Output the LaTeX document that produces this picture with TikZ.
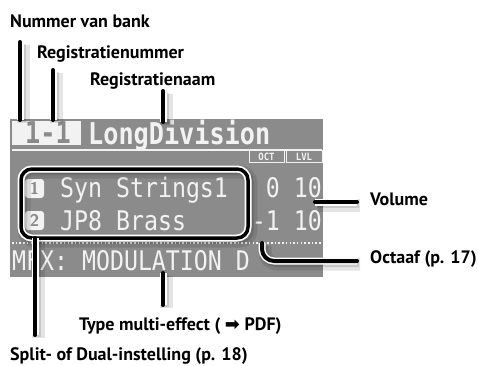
\documentclass[tikz,border=0pt]{standalone}
\usepackage{fontspec}
\setmainfont{PT Sans}
\newfontfamily\lcdfont{DejaVu Sans Mono}
\newfontfamily\symfont{DejaVu Sans}
\definecolor{lcdgray}{HTML}{8B8B8B}
\definecolor{lcdtext}{HTML}{F2F2F2}
\definecolor{lcdink}{HTML}{8A8A8A}
\tikzset{
  callout/.style={font=\bfseries\fontsize{18}{20}\selectfont, inner sep=0pt},
  lcdbig/.style={text=lcdtext, inner sep=0pt, font=\lcdfont\bfseries\fontsize{30}{30}\selectfont},
  lcdline/.style={text=lcdtext, inner sep=0pt, font=\lcdfont\fontsize{27}{27}\selectfont},
  shade/.style={preaction={draw=black, opacity=0.10, line width=13pt, transform canvas={shift={(3pt,-3pt)}}},
                preaction={draw=black, opacity=0.12, line width=8pt, transform canvas={shift={(2pt,-2pt)}}}},
  lead/.style={shade, line cap=round, line join=round,
               preaction={draw=white, line width=7pt},
               draw=black, line width=4pt},
  iconbox/.style={fill=lcdtext, rounded corners=3pt, minimum width=19pt, minimum height=19pt,
                  inner sep=0pt, text=lcdink, font=\bfseries\sffamily\fontsize{17}{17}\selectfont},
  tagbox/.style={text=lcdtext, inner sep=0pt, font=\lcdfont\bfseries\fontsize{10}{10}\selectfont}
}
\begin{document}
\begin{tikzpicture}[x=1pt, y=-1pt]
\useasboundingbox (0,0) rectangle (478,365);

% display panel
\fill[lcdgray] (10,119) rectangle (323,277);
\fill[lcdtext] (12,121) rectangle (81,145);
\node[lcdbig, text=lcdink, anchor=base west] (bank) at (25,143) {\scalebox{0.84}[1]{1-1}};
\node[lcdbig, anchor=base west] (regname) at (88,144) {\scalebox{0.84}[1]{LongDivision}};
\draw[lcdtext, line width=1.5pt] (12,150) -- (322,150);

% column headers
\draw[lcdtext, line width=1pt] (249,150) -- (249,162) -- (284,162) -- (284,150);
\draw[lcdtext, line width=1pt] (286,150) -- (286,162) -- (322,162) -- (322,150);
\node[tagbox] (octtag) at (266.5,156.5) {\scalebox{0.9}[1]{OCT}};
\node[tagbox] (lvltag) at (304,156.5) {\scalebox{0.9}[1]{LVL}};

% part rows
\node[iconbox] (one) at (34.5,188.5) {1};
\node[iconbox] (two) at (34.5,220.5) {2};
\node[lcdline, anchor=base west] (part1) at (60,197) {\scalebox{0.86}[1]{Syn Strings1}};
\node[lcdline, anchor=base west] (part2) at (60,230) {\scalebox{0.86}[1]{JP8 Brass}};
\node[lcdline, anchor=base east] (val1) at (322,197) {\scalebox{0.86}[1]{0 10}};
\node[lcdline, anchor=base east] (val2) at (322,230) {\scalebox{0.86}[1]{-1 10}};

% effect row
\draw[lcdtext, line width=1.5pt, dash pattern=on 1.5pt off 2.2pt] (12,243) -- (322,243);
\node[lcdline, anchor=base west] (mfx) at (12,270) {\scalebox{0.86}[1]{MFX: MODULATION D}};

% grouping frame around the two parts
\draw[shade, preaction={draw=white, line width=7pt}, draw=black, line width=3.5pt, rounded corners=11pt]
  (21,169) rectangle (248,238);
\coordinate (frameBot) at (35,238);

% callout labels
\node[callout, anchor=base west] (lbank) at (10,27) {Nummer van bank};
\node[callout, anchor=base west] (lregnr) at (37,58) {Registratienummer};
\node[callout, anchor=base west] (lregname) at (90,85) {Registratienaam};
\node[callout, anchor=base west] (lvol) at (370,205) {Volume};
\node[callout, anchor=base west] (loct) at (370,263) {Octaaf (p. 17)};
\node[callout, anchor=base west] (lmfx) at (79,330) {Type multi-effect ( {\symfont ➡} PDF)};
\node[callout, anchor=base west] (lsplit) at (10,360) {Split- of Dual-instelling (p. 18)};

% leader lines
\coordinate (bankTop) at (20,42);    \coordinate (bankEnd) at (20,120);
\coordinate (nrTop) at (53,70);      \coordinate (nrEnd) at (53,120);
\coordinate (nameTop) at (163,91);   \coordinate (nameEnd) at (163,122);
\coordinate (mfxTop) at (163,273);   \coordinate (mfxEnd) at (163,305);
\coordinate (splitEnd) at (35,335);
\coordinate (volStart) at (315,202); \coordinate (volEnd) at (357,202);
\coordinate (octStart) at (262,243); \coordinate (octEnd) at (357,261);

\draw[lead] (bankTop) -- (bankEnd);
\draw[lead] (nrTop) -- (nrEnd);
\draw[lead] (nameTop) -- (nameEnd);
\draw[lead] (mfxTop) -- (mfxEnd);
\draw[lead] (frameBot) -- (splitEnd);
\draw[lead] (volStart) -- (volEnd);
\draw[lead, rounded corners=12pt] (octStart) |- (octEnd);
\end{tikzpicture}
\end{document}
